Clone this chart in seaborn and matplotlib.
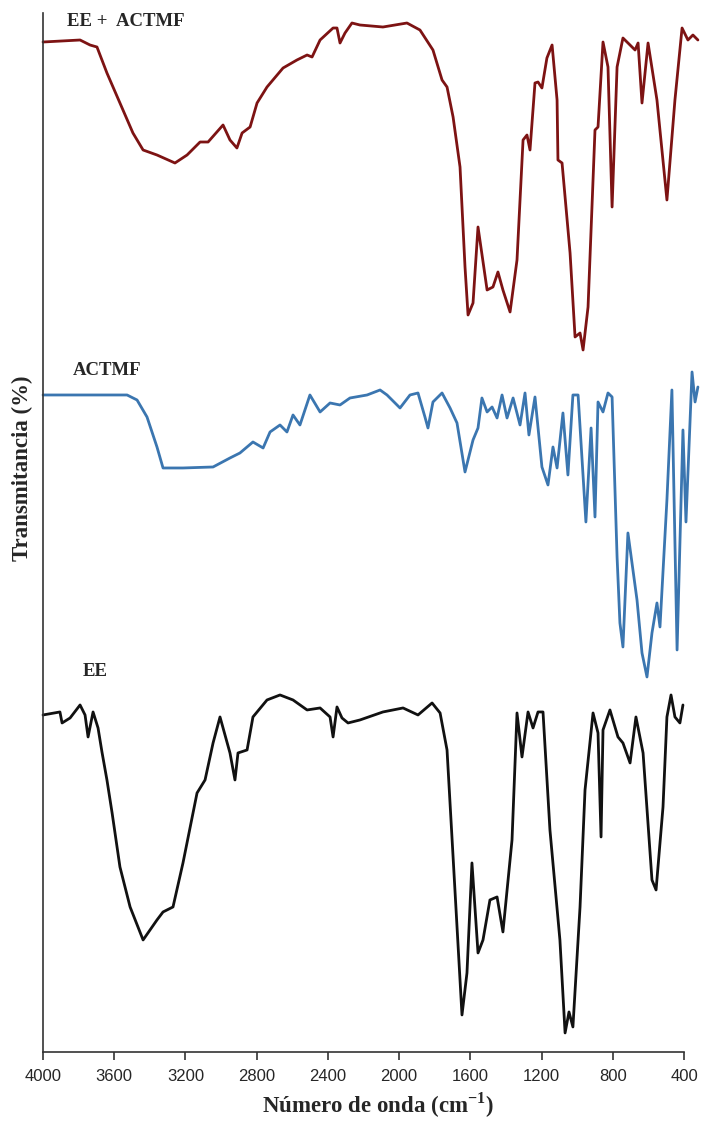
import numpy as np
import pandas as pd
import matplotlib
matplotlib.use("Agg")
import matplotlib.pyplot as plt
import seaborn as sns

# FTIR spectra: wavenumber (cm-1) and stacked transmittance (offset, %)

wn_mix = [4000, 3792, 3736, 3697, 3641, 3568, 3495, 3438, 3360, 3259,
          3191, 3118, 3073, 2989, 2950, 2911, 2882, 2837, 2798, 2742,
          2652, 2574, 2517, 2489, 2444, 2371, 2349, 2332, 2304, 2265,
          2220, 2091, 1956, 1883, 1810, 1759, 1731, 1697, 1658, 1630,
          1613, 1585, 1557, 1506, 1473, 1445, 1417, 1377, 1338, 1304,
          1282, 1265, 1237, 1220, 1198, 1170, 1141, 1113, 1108, 1085,
          1040, 1012, 984, 967, 939, 900, 883, 855, 827, 804,
          776, 743, 692, 675, 658, 636, 602, 552, 496, 451,
          411, 378, 350, 322]
t_mix = [101.0, 101.2, 100.7, 100.5, 97.9, 94.9, 91.9, 90.2, 89.7, 88.9,
         89.7, 91.0, 91.0, 92.7, 91.2, 90.4, 91.9, 92.5, 94.9, 96.5,
         98.4, 99.2, 99.7, 99.5, 101.2, 102.4, 102.4, 100.9, 101.9, 102.9,
         102.7, 102.5, 102.9, 102.2, 100.2, 97.2, 96.5, 93.5, 88.5, 78.5,
         73.7, 74.9, 82.5, 76.2, 76.5, 78.0, 76.2, 74.0, 79.2, 91.2,
         91.7, 90.2, 96.9, 97.0, 96.4, 99.4, 100.7, 95.2, 89.2, 88.9,
         79.9, 71.5, 71.9, 70.2, 74.5, 92.2, 92.5, 101.0, 98.5, 84.5,
         98.5, 101.4, 100.5, 100.2, 100.9, 94.9, 100.9, 95.2, 85.2, 95.2,
         102.4, 101.2, 101.7, 101.2]

wn_actmf = [4000, 3865, 3528, 3472, 3416, 3360, 3326, 3214, 3045, 2950,
            2894, 2821, 2764, 2725, 2669, 2630, 2596, 2557, 2501, 2444,
            2388, 2332, 2276, 2180, 2107, 2068, 1995, 1939, 1894, 1855,
            1838, 1810, 1759, 1714, 1675, 1630, 1585, 1557, 1535, 1506,
            1478, 1450, 1422, 1394, 1360, 1321, 1293, 1271, 1237, 1198,
            1164, 1136, 1113, 1080, 1052, 1024, 995, 951, 922, 900,
            883, 855, 827, 804, 776, 760, 743, 715, 664, 636,
            608, 580, 552, 535, 496, 468, 439, 406, 389, 355,
            338, 322]
t_actmf = [65.7, 65.7, 65.7, 65.2, 63.5, 60.5, 58.4, 58.4, 58.5, 59.4,
           59.9, 61.0, 60.4, 62.0, 62.7, 62.0, 63.7, 62.7, 65.7, 64.0,
           64.9, 64.7, 65.4, 65.7, 66.2, 65.7, 64.4, 65.7, 65.9, 63.5,
           62.4, 65.0, 65.9, 64.4, 62.9, 58.0, 61.2, 62.4, 65.4, 64.0,
           64.5, 63.4, 65.7, 63.4, 65.4, 62.7, 65.9, 61.7, 65.5, 58.5,
           56.7, 60.5, 58.4, 63.9, 57.7, 65.7, 65.7, 53.0, 62.4, 53.5,
           65.0, 64.0, 65.9, 65.5, 49.5, 42.9, 40.5, 51.9, 45.2, 39.9,
           37.5, 41.9, 44.9, 42.5, 55.2, 66.2, 40.2, 62.2, 53.0, 68.0,
           65.0, 66.5]

wn_ee = [4000, 3905, 3893, 3848, 3792, 3764, 3747, 3719, 3691, 3669,
         3641, 3612, 3568, 3511, 3438, 3360, 3326, 3270, 3214, 3135,
         3090, 3045, 3006, 2950, 2922, 2905, 2854, 2821, 2742, 2669,
         2596, 2517, 2444, 2388, 2371, 2349, 2321, 2287, 2220, 2091,
         1978, 1894, 1815, 1770, 1731, 1697, 1647, 1619, 1591, 1557,
         1529, 1490, 1450, 1417, 1366, 1338, 1310, 1276, 1248, 1220,
         1192, 1153, 1097, 1068, 1046, 1024, 984, 956, 911, 883,
         866, 855, 816, 771, 743, 703, 670, 630, 580, 557,
         518, 496, 473, 451, 423, 406]
t_ee = [33.7, 34.0, 32.9, 33.4, 34.7, 33.7, 31.5, 34.0, 32.4, 30.0,
        27.2, 23.9, 18.5, 14.5, 11.2, 13.2, 14.0, 14.5, 18.9, 25.9,
        27.2, 30.9, 33.5, 29.9, 27.2, 29.9, 30.2, 33.5, 35.2, 35.7,
        35.2, 34.2, 34.4, 33.5, 31.5, 34.5, 33.4, 32.9, 33.2, 34.0,
        34.4, 33.7, 34.9, 33.9, 30.2, 19.5, 3.7, 7.9, 18.9, 9.9,
        11.2, 15.2, 15.5, 12.0, 21.2, 33.9, 29.5, 34.0, 32.4, 34.0,
        34.0, 22.2, 11.2, 1.9, 4.0, 2.5, 14.5, 26.2, 33.9, 31.9,
        21.5, 32.2, 34.2, 31.5, 30.9, 28.9, 33.5, 29.9, 17.2, 16.2,
        24.5, 33.5, 35.7, 33.5, 32.9, 34.7]

names = ["EE +  ACTMF", "ACTMF", "EE"]
colors = ["#7d1313", "#3b76b0", "#111111"]
xticks = [4000, 3600, 3200, 2800, 2400, 2000, 1600, 1200, 800, 400]

sns.set_style("white")
plt.rcParams["mathtext.fontset"] = "custom"
plt.rcParams["mathtext.rm"] = "Liberation Serif"
plt.rcParams["mathtext.bf"] = "Liberation Serif:bold"

fig = plt.figure(figsize=(7.03, 11.21), dpi=100)
ax = fig.add_axes([0.0612, 0.0616, 0.9118, 0.9268])

spectra = [(wn_mix, t_mix), (wn_actmf, t_actmf), (wn_ee, t_ee)]

for (wn, t), name, color in zip(spectra, names, colors):

    df = pd.DataFrame({"wn": wn, "t": t})

    sns.lineplot(
        data=df,
        x="wn",
        y="t",
        sort=False,
        estimator=None,
        color=color,
        linewidth=2.0,
        solid_joinstyle="round",
        solid_capstyle="round",
        ax=ax,
        clip_on=False
    )

# curve labels
label_pos = [(3865, 103.1), (3832, 68.1), (3775, 38.0)]

for name, (lx, ly) in zip(names, label_pos):
    ax.text(
        lx, ly, name,
        fontsize=13.5,
        fontweight="bold",
        family="Liberation Serif",
        va="center",
        ha="left"
    )

ax.set_xlim(4000, 400)
ax.set_ylim(0, 103.9)

ax.set_xticks(xticks)
ax.set_xticklabels([str(v) for v in xticks], fontsize=12, family="Liberation Sans")
ax.set_yticks([])

ax.tick_params(axis="x", direction="out", length=6, width=1.2, color="#333333", pad=6, bottom=True)

for side in ["top", "right"]:
    ax.spines[side].set_visible(False)

for side in ["left", "bottom"]:
    ax.spines[side].set_color("#333333")
    ax.spines[side].set_linewidth(1.2)

ax.set_xlabel("")
ax.set_ylabel("")

fig.text(
    0.537, 1 - 1105 / 1121,
    r"Número de onda (cm$^{\mathbf{-1}}$)",
    fontsize=16.5,
    fontweight="bold",
    family="Liberation Serif",
    ha="center",
    va="center"
)

fig.text(
    22 / 703, 1 - 468 / 1121,
    "Transmitancia (%)",
    fontsize=16.5,
    fontweight="bold",
    family="Liberation Serif",
    rotation=90,
    ha="center",
    va="center"
)

plt.savefig("out.png", dpi=100)
